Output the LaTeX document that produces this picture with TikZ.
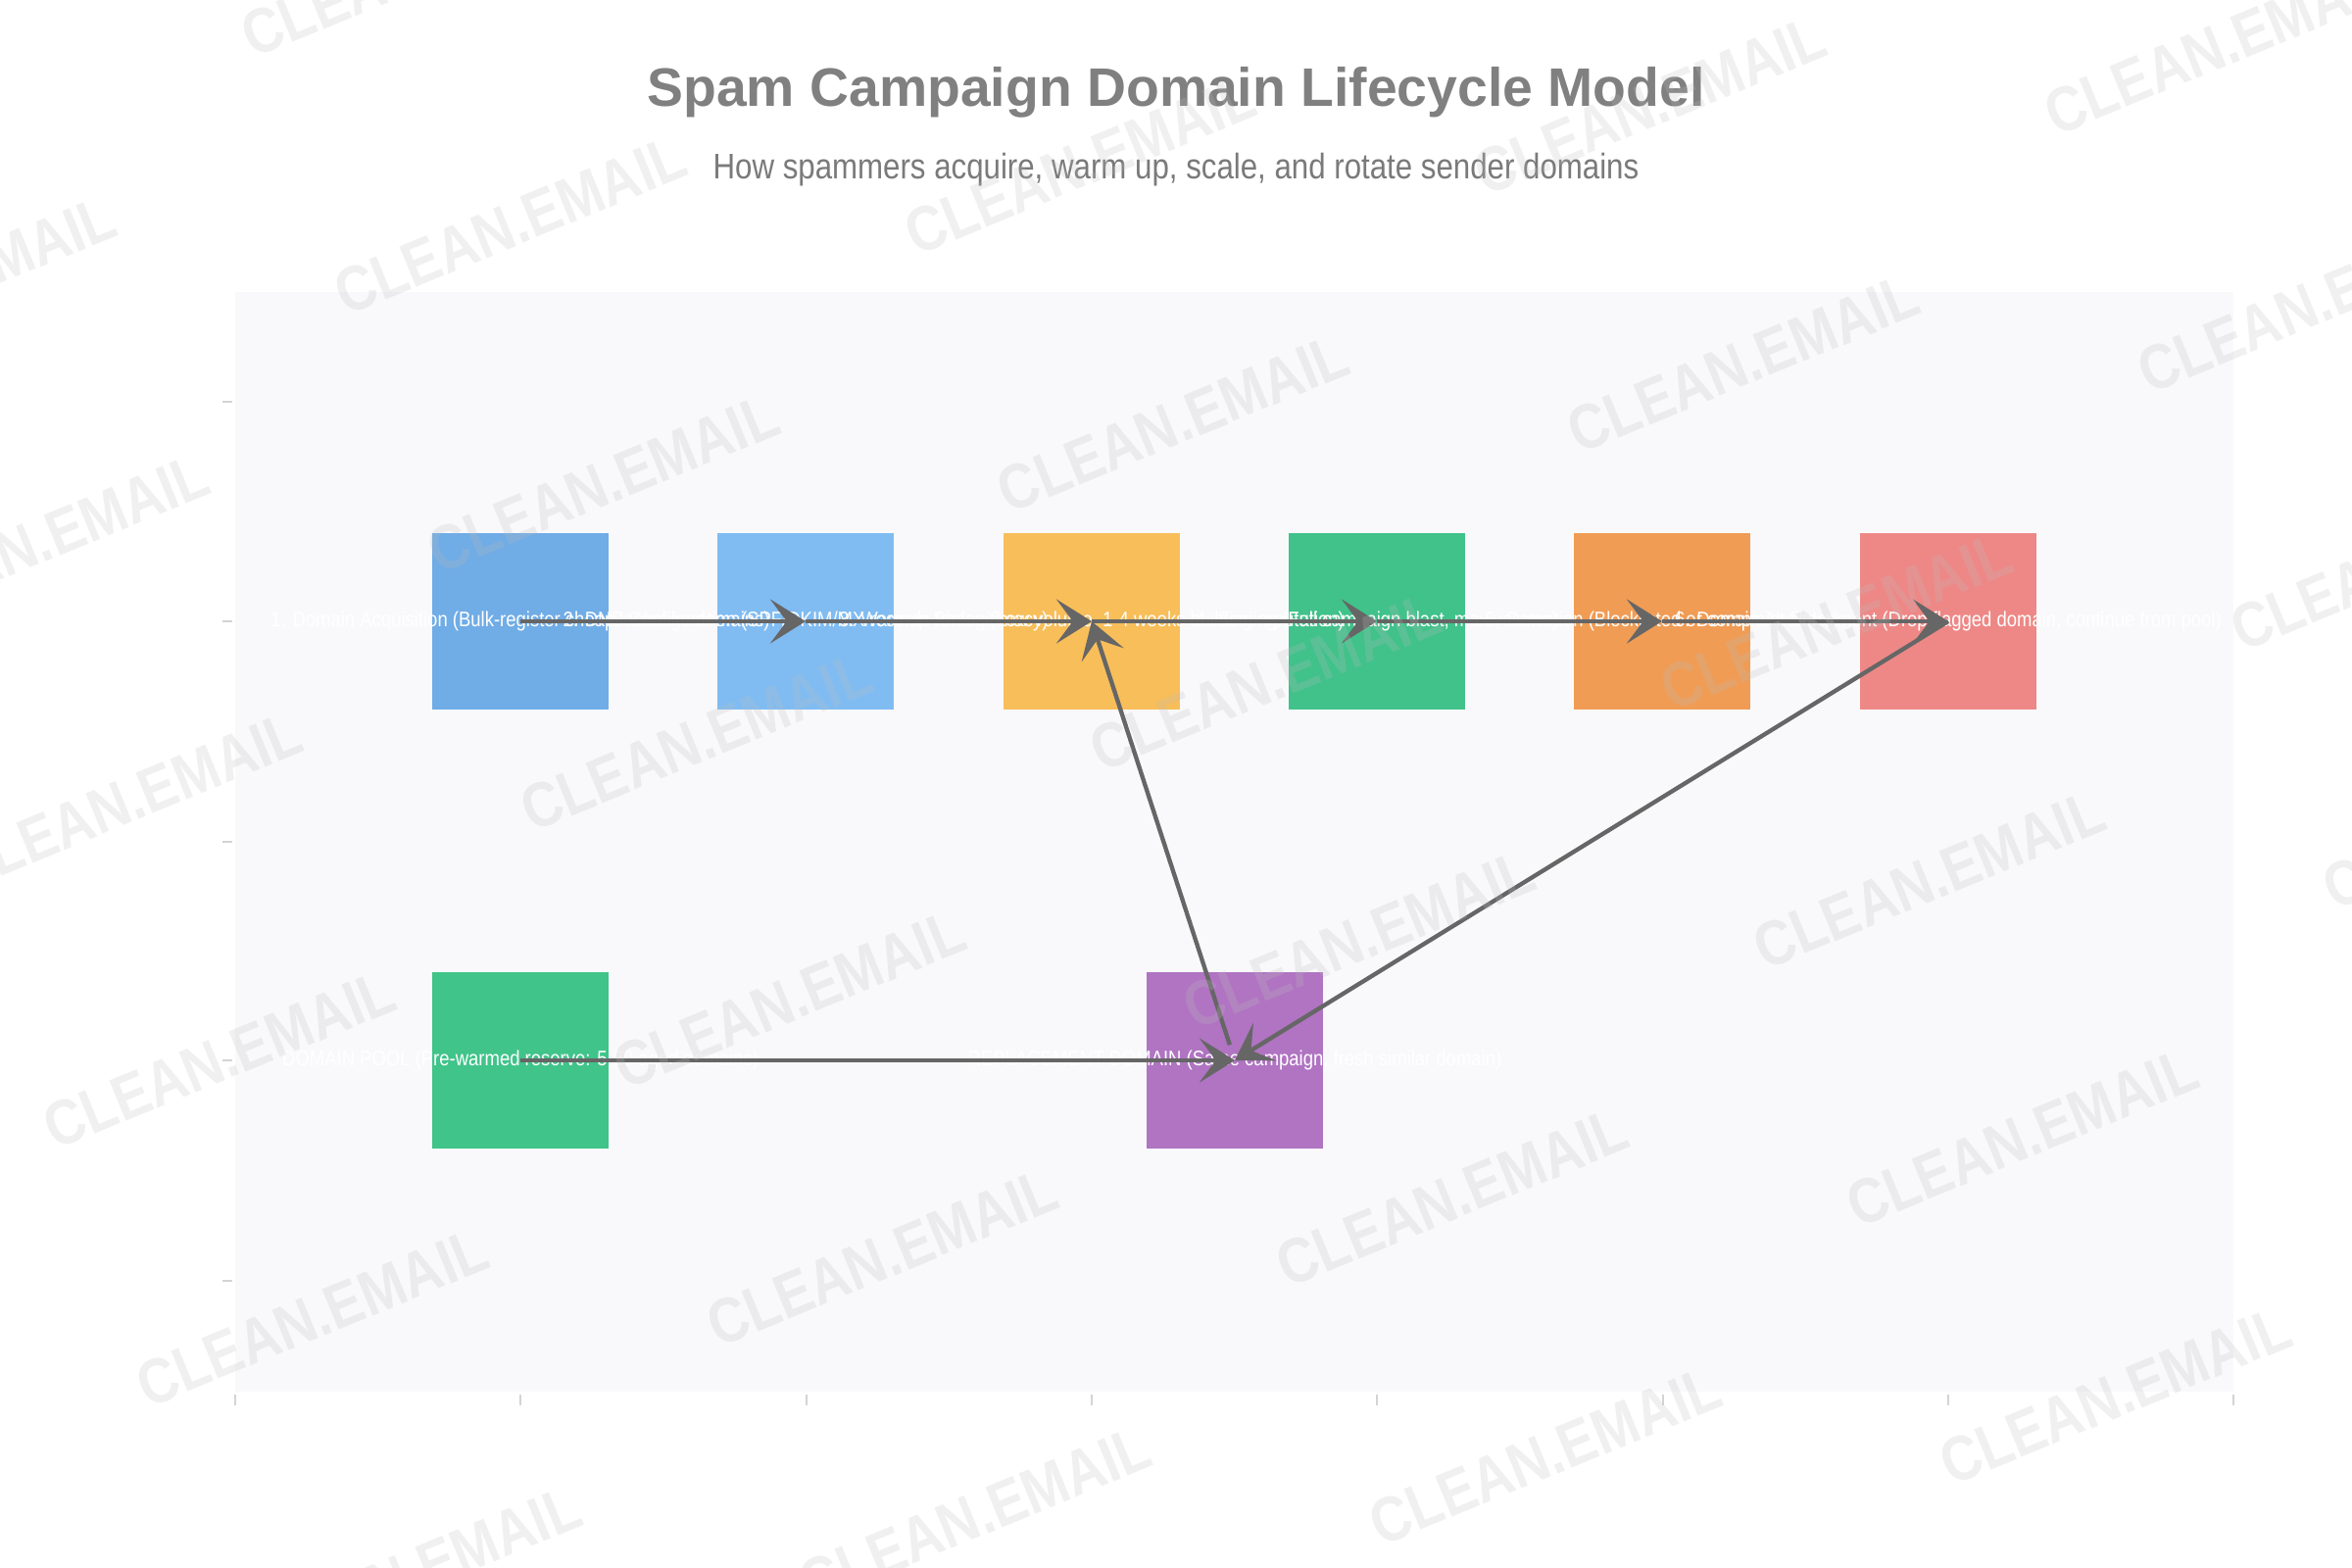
\documentclass[tikz,border=0pt]{standalone}
\usepackage{fontspec}
\setmainfont{Liberation Sans}[FakeStretch=0.86]
\newfontfamily\titlefont{Liberation Sans}
\usetikzlibrary{arrows.meta}
\definecolor{plotbg}{HTML}{F9F9FB}
\definecolor{tickc}{HTML}{D4D4D4}
\definecolor{arrowc}{HTML}{666666}
\definecolor{titlec}{HTML}{808080}
\definecolor{subc}{HTML}{7A7A7A}
\definecolor{wmc}{HTML}{BDBDBD}
\definecolor{cA}{HTML}{70ACE6}
\definecolor{cB}{HTML}{80BCF2}
\definecolor{cC}{HTML}{F8BE5A}
\definecolor{cD}{HTML}{40C28A}
\definecolor{cE}{HTML}{F09C55}
\definecolor{cF}{HTML}{EE8886}
\definecolor{cG}{HTML}{40C48A}
\definecolor{cH}{HTML}{B074C2}
\begin{document}
\begin{tikzpicture}[x=0.3pt,y=-0.3pt,
  box/.style={rectangle, draw=none, minimum width=54pt, minimum height=54pt, inner sep=0pt},
  lbl/.style={text=white, inner sep=0pt, font=\fontsize{6.45}{7.5}\selectfont},
  tick/.style={draw=tickc, line width=0.35pt},
  edge/.style={draw=arrowc, line width=1.3pt, -{Stealth[length=10.8pt, width=13.5pt, inset=5pt]}},
  wm/.style={text=wmc, text opacity=0.22, rotate=22.4, inner sep=0pt, font=\fontsize{19.4}{22}\selectfont\bfseries},
  titlestyle/.style={text=titlec, inner sep=0pt, font=\titlefont\fontsize{16.6}{20}\selectfont\bfseries},
  substyle/.style={text=subc, inner sep=0pt, font=\fontsize{10.9}{13}\selectfont}]
\useasboundingbox (0,0) rectangle (2400,1600);
\fill[white] (0,0) rectangle (2400,1600);
\fill[plotbg] (240,298) rectangle (2279,1420);
\foreach \y in {410,634,859,1082,1307} \draw[tick] (227,\y) -- (237,\y);
\foreach \x in {240,531,823,1114,1405,1697,1988,2279} \draw[tick] (\x,1423) -- (\x,1434);

\node[titlestyle] (title) at (1200,94) {Spam Campaign Domain Lifecycle Model};
\node[substyle] (subtitle) at (1200,173) {How spammers acquire, warm up, scale, and rotate sender domains};

\node[box, fill=cA] (b1) at (531,634) {};
\node[box, fill=cB] (b2) at (822,634) {};
\node[box, fill=cC] (b3) at (1114,634) {};
\node[box, fill=cD] (b4) at (1405,634) {};
\node[box, fill=cE] (b5) at (1696,634) {};
\node[box, fill=cF] (b6) at (1988,634) {};
\node[box, fill=cG] (pool) at (531,1082) {};
\node[box, fill=cH] (new) at (1260,1082) {};

\node[lbl] (t1) at (b1) {1. Domain Acquisition (Bulk-register cheap lookalike domains)};
\node[lbl] (t2) at (b2) {2. DNS Configuration (SPF/DKIM/MX records for legitimacy)};
\node[lbl] (t3) at (b3) {3. Warmup Phase (Low volume, 1-4 weeks building reputation)};
\node[lbl] (t4) at (b4) {4. Scaling (Full campaign blast, max volume)};
\node[lbl] (t5) at (b5) {5. Detection (Blocklisted or complaint filters)};
\node[lbl] (t6) at (b6) {6. Domain Abandonment (Drop flagged domain, continue from pool)};
\node[lbl] (t7) at (pool) {DOMAIN POOL (Pre-warmed reserve: 5-20 aged domains)};
\node[lbl] (t8) at (new) {REPLACEMENT DOMAIN (Same campaign, fresh similar domain)};

\draw[edge] (b1.center) -- (b2.center);
\draw[edge] (b2.center) -- (b3.center);
\draw[edge] (b3.center) -- (b4.center);
\draw[edge] (b4.center) -- (b5.center);
\draw[edge] (b5.center) -- (b6.center);
\draw[edge] (pool.center) -- (new.center);
\draw[edge, shorten <=5pt] (new.center) -- (b3.center);
\draw[edge] (b6.center) -- (new.center);

\begin{scope}
\clip (0,0) rectangle (2400,1600);
\foreach \i in {0,...,4}{\foreach \j in {-1,...,6}{
  \node[wm] (wm\i\j) at ({-61+581.6*\i+94.9*\j},{291-61.2*\i+263.3*\j}) {CLEAN.EMAIL};
}}
\end{scope}
\end{tikzpicture}
\end{document}
